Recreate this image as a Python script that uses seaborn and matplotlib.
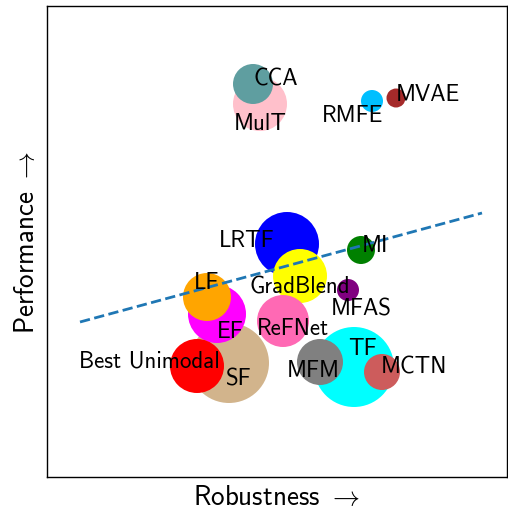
import matplotlib
matplotlib.use("Agg")
import matplotlib.pyplot as plt
import numpy as np
import pandas as pd
import seaborn as sns

# methods (x = robustness, y = performance, r = bubble radius)
methods = ["SF", "TF", "LRTF", "MulT", "CCA", "GradBlend", "EF", "LF", "ReFNet",
           "Best Unimodal", "MFM", "MCTN", "MI", "MFAS", "RMFE", "MVAE"]
robustness = [182, 307, 240, 213, 206, 253, 170, 160, 236, 150, 273, 335, 314, 301, 325, 349]
performance = [114, 110, 233, 373, 393, 201, 163, 180, 156, 111, 115, 105, 227, 187, 376, 379]
radius = [40, 40, 32, 27, 20, 27, 29, 24, 26, 27, 23, 18, 14, 11, 11, 9.5]
colors = ["tan", "cyan", "blue", "pink", "cadetblue", "yellow", "magenta", "orange", "hotpink",
          "red", "gray", "indianred", "green", "purple", "deepskyblue", "brown"]

# label anchor points
label_x = [191, 315, 200, 213, 229, 253, 183, 160, 246, 102, 266, 367, 328, 314, 306, 381]
label_y = [98, 129, 237, 354, 398, 191, 146, 195, 149, 117, 107, 110, 232, 168, 362, 383]

# trend line end points
line_x = [33, 435]
line_y = [155, 264]

plt.rcParams["font.family"] = "cmss10"
plt.rcParams["mathtext.fontset"] = "cm"
plt.rcParams["axes.unicode_minus"] = False

df = pd.DataFrame({"method": methods, "robustness": robustness, "performance": performance,
                   "area": [(1.44 * r) ** 2 for r in radius]})
df["area"] = df["area"] + np.arange(len(df)) * 1e-6  # keep size levels unique

fig = plt.figure(figsize=(5.08, 5.10), dpi=100)
ax = fig.add_axes([47 / 508, 32 / 510, 460 / 508, 471 / 510])

sns.scatterplot(data=df, x="robustness", y="performance", hue="method",
                palette=dict(zip(methods, colors)), size="area",
                sizes={a: a for a in df["area"]}, linewidth=0, alpha=1,
                legend=False, ax=ax, zorder=2)

ax.plot(line_x, line_y, linestyle="--", color="#1f77b4", linewidth=2, zorder=3)

for name, lx, ly in zip(methods, label_x, label_y):
    ax.text(lx, ly, name, ha="center", va="center", fontsize=16.5, zorder=4)

ax.set_xlim(0, 460)
ax.set_ylim(0, 471)
ax.set_xticks([])
ax.set_yticks([])
ax.set_xlabel(r"Robustness $\rightarrow$", fontsize=19.5, labelpad=5)
ax.set_ylabel(r"Performance $\rightarrow$", fontsize=19.5, labelpad=6)
for sp in ax.spines.values():
    sp.set_color("black")
    sp.set_linewidth(1)

fig.savefig("out.png", dpi=100)
